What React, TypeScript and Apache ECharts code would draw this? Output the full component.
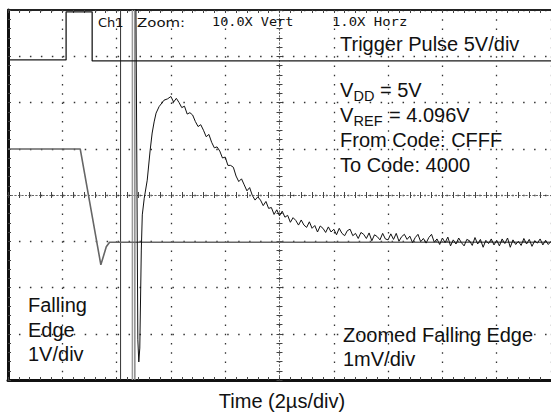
import React, { useEffect, useRef } from "react";
import * as echarts from "echarts";

// Scope screen in divisions: x -5..5 (2us/div), y -4..4
const TRIGGER_X = [-5.0, -3.93, -3.93, -3.45, -3.45, 5.0];
const TRIGGER_Y = [2.92, 2.92, 3.96, 3.96, 2.9, 2.9];

const FALL_X = [-5.0, -3.67, -3.29, -3.19, -3.13, 5.0];
const FALL_Y = [0.995, 0.995, -1.51, -1.12, -1.02, -1.02];

const CURSOR_X = [-2.927, -2.709, -2.664];
const CURSOR_COLORS = ["#333", "#9a9a9a", "#8a8a8a"];

// zoomed falling edge: the fast edge (irregular samples)
const EDGE_X = [-2.645, -2.609, -2.591, -2.573, -2.545, -2.527, -2.491, -2.436, -2.382, -2.345, -2.309, -2.273, -2.218, -2.127, -2.06];
const EDGE_Y = [4.3, -3.13, -3.61, -3.31, -1.19, -0.43, -0.07, 0.32, 0.97, 1.34, 1.58, 1.77, 1.91, 2.05, 2.08];

// zoomed falling edge: settling tail, sampled every 0.05 div from -2.0
const DECAY_T0 = -2.0;
const DECAY_DT = 0.05;
const DECAY_Y = [
  2.13, 2.01, 2.09, 2.0, 1.89, 1.92, 1.75, 1.78, 1.73, 1.59, 1.48, 1.52, 1.4, 1.26, 1.31, 1.14, 1.02, 1.04, 0.95, 0.8,
  0.82, 0.64, 0.64, 0.6, 0.41, 0.29, 0.35, 0.22, 0.09, 0.16, -0.01, -0.11, -0.04, -0.11, -0.23, -0.14, -0.29, -0.27, -0.42, -0.32,
  -0.45, -0.35, -0.48, -0.44, -0.59, -0.49, -0.55, -0.65, -0.54, -0.65, -0.7, -0.58, -0.72, -0.66, -0.8, -0.67, -0.72, -0.81, -0.69, -0.8,
  -0.74, -0.86, -0.72, -0.83, -0.88, -0.77, -0.74, -0.88, -0.83, -0.94, -0.81, -0.85, -0.94, -0.82, -0.99, -0.86, -0.9, -0.97, -0.83, -0.95,
  -0.97, -0.84, -0.96, -0.83, -1.0, -0.9, -0.85, -0.96, -0.89, -1.03, -0.92, -0.85, -1.01, -0.94, -1.04, -0.92, -0.85, -1.02, -0.95, -1.07,
  -0.93, -1.03, -0.91, -1.1, -0.97, -1.06, -0.93, -1.03, -1.1, -0.96, -0.99, -1.09, -0.92, -1.06, -0.96, -1.13, -0.98, -1.05, -0.95, -1.08,
  -0.98, -1.1, -0.95, -1.05, -0.93, -1.13, -0.97, -1.07, -1.0, -1.09, -0.94, -1.06, -0.96, -1.11, -0.99, -1.04, -0.95, -1.08, -0.98, -1.07, -1.0,
];

const X_MIN = -5;
const X_MAX = 5;
const Y_MIN = -4;
const Y_MAX = 4;

const SANS = '"Liberation Sans", Arial, Helvetica, sans-serif';
const SCOPE = '"DejaVu Sans", Verdana, sans-serif';
const SCOPE_MONO = '"DejaVu Sans Mono", monospace';

function pairs(xs: number[], ys: number[]) {
  return xs.map((x, i) => [x, ys[i]]);
}

function label(text: string, x: number, y: number, size = 20, family = SANS, extra: any = {}) {
  return {
    type: "text",
    x,
    y,
    silent: true,
    z: 100,
    ...extra,
    style: {
      text,
      fill: "#111",
      fontSize: size,
      fontFamily: family,
      align: extra.align || "left",
      verticalAlign: "middle",
    },
  };
}

export default function App() {
  const ref = useRef<HTMLDivElement>(null);

  useEffect(() => {
    if (!ref.current) return;
    const chart = echarts.init(ref.current, undefined, { renderer: "svg" });

    const zoomData = [
      ...pairs(EDGE_X, EDGE_Y),
      ...DECAY_Y.map((y, i) => [DECAY_T0 + i * DECAY_DT, y]),
    ];

    const baseX = {
      type: "value",
      min: X_MIN,
      max: X_MAX,
      interval: 1,
      axisLabel: { show: false },
      splitLine: { show: false },
    };
    const baseY = {
      type: "value",
      min: Y_MIN,
      max: Y_MAX,
      interval: 1,
      axisLabel: { show: false },
      splitLine: { show: false },
    };
    const tick = { show: true, inside: true, length: 3, lineStyle: { color: "#444", width: 1 } };
    const minor = { show: true, splitNumber: 5, length: 3, lineStyle: { color: "#444", width: 1 } };
    const center = { show: true, onZero: true, onZeroAxisIndex: 0, lineStyle: { color: "#666", width: 1, type: [1, 2.5] } };

    const option: any = {
      animation: false,
      backgroundColor: "#ffffff",
      grid: { left: 8, top: 10, width: 548, height: 370, containLabel: false },
      xAxis: [
        {
          ...baseX,
          position: "bottom",
          axisLine: { show: true, onZero: false, lineStyle: { color: "#111", width: 3 } },
          axisTick: tick,
          minorTick: minor,
          splitLine: { show: true, lineStyle: { color: "#333", width: 1.3, type: [1.5, 7.75] } },
        },
        {
          ...baseX,
          position: "top",
          axisLine: { show: true, onZero: false, lineStyle: { color: "#222", width: 2 } },
          axisTick: tick,
          minorTick: minor,
        },
        { ...baseX, position: "bottom", axisLine: center, axisTick: tick, minorTick: minor },
        { ...baseX, position: "top", axisLine: center, axisTick: tick, minorTick: minor },
      ],
      yAxis: [
        {
          ...baseY,
          position: "left",
          axisLine: { show: true, onZero: false, lineStyle: { color: "#111", width: 3 } },
          axisTick: tick,
          minorTick: minor,
          splitLine: { show: true, lineStyle: { color: "#333", width: 1.3, type: [1.5, 9.46] } },
        },
        { ...baseY, position: "left", axisLine: center, axisTick: tick, minorTick: minor },
        { ...baseY, position: "right", axisLine: center, axisTick: tick, minorTick: minor },
      ],
      series: [
        ...CURSOR_X.map((x, i) => ({
          type: "line",
          data: [
            [x, Y_MIN],
            [x, Y_MAX],
          ],
          symbol: "none",
          silent: true,
          lineStyle: { color: CURSOR_COLORS[i], width: i === 0 ? 1 : 1.5 },
          z: 2,
        })),
        {
          type: "line",
          name: "Falling Edge",
          data: pairs(FALL_X, FALL_Y),
          symbol: "none",
          silent: true,
          lineStyle: { color: "#666", width: 1.6 },
          z: 3,
        },
        {
          type: "line",
          name: "Trigger Pulse",
          data: pairs(TRIGGER_X, TRIGGER_Y),
          symbol: "none",
          silent: true,
          lineStyle: { color: "#1a1a1a", width: 1.3 },
          z: 4,
        },
        {
          type: "line",
          name: "Zoomed Falling Edge",
          data: zoomData,
          symbol: "none",
          silent: true,
          clip: true,
          lineStyle: { color: "#111", width: 1 },
          z: 5,
        },
      ],
      graphic: [
        label("Ch1", 98, 22, 13, SCOPE),
        label("Zoom:", 137, 22, 13, SCOPE, { scaleX: 1.15 }),
        label("10.0X Vert", 212, 22, 13, SCOPE_MONO, { scaleX: 1.04 }),
        label("1.0X Horz", 332, 22, 13, SCOPE_MONO, { scaleX: 1.07 }),
        label("Trigger Pulse 5V/div", 340, 44),
        label("V", 340, 89.5),
        label("DD", 353.5, 95.5, 14.5),
        label("= 5V", 380, 89.5),
        label("V", 340, 114.5),
        label("REF", 353.5, 120.5, 14.5),
        label("= 4.096V", 389, 114.5),
        label("From Code: CFFF", 340, 139.5),
        label("To Code: 4000", 340, 164.5),
        label("Falling", 28, 305),
        label("Edge", 28, 330),
        label("1V/div", 28, 354),
        label("Zoomed Falling Edge", 343, 335),
        label("1mV/div", 343, 359),
        label("Time (2\u00b5s/div)", 282, 401, 20, SANS, { align: "center" }),
      ],
    };

    chart.setOption(option);
    return () => chart.dispose();
  }, []);

  return (
    <div
      ref={ref}
      style={{ position: "fixed", left: 0, top: 0, width: 551, height: 417, background: "#fff" }}
    />
  );
}
